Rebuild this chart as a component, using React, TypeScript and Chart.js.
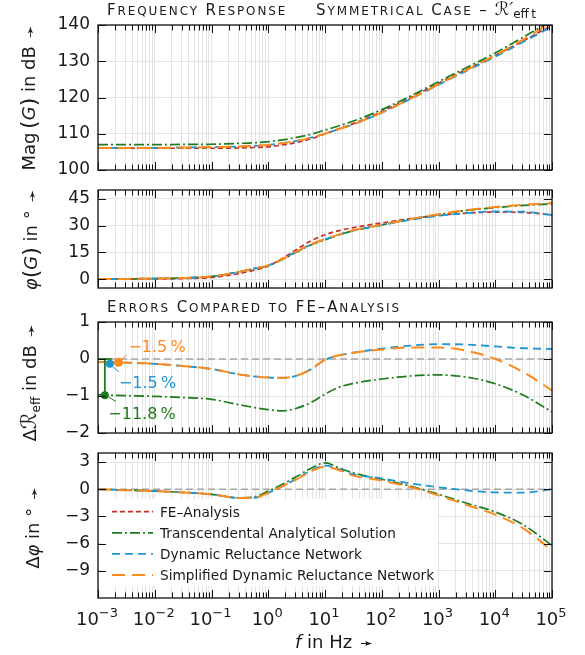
import React, { useEffect, useRef } from 'react';
import { Chart, registerables } from 'chart.js';

Chart.register(...registerables);

const FONT = '"DejaVu Sans", "Liberation Sans", sans-serif';
const INK = '#1a1a1a';

const C_FE = '#c2302b';
const C_TAS = '#1e7b1e';
const C_DRN = '#1f96cf';
const C_SDRN = '#ff8a1c';
const C_ZERO = '#a6a6a6';

// frequency samples (Hz)
const freqHz = [1e-3, 3.162e-3, 1e-2, 3.162e-2, 0.1, 0.3162, 0.5623, 1, 1.778, 3.162, 5.623, 10, 17.78, 31.62, 100, 316.2, 1000, 3162, 1e4, 3.162e4, 1e5];

// Panel 1: magnitude in dB
const magFE = [106.0, 106.0, 106.0, 106.0, 106.0, 106.1, 106.2, 106.4, 106.9, 107.6, 108.6, 110.0, 111.4, 112.8, 116.1, 119.9, 123.9, 127.8, 131.6, 135.7, 139.9];
const magTAS = [107.0, 107.0, 107.0, 107.05, 107.1, 107.35, 107.5, 107.8, 108.3, 109.0, 109.85, 111.0, 112.2, 113.5, 116.65, 120.35, 124.35, 128.3, 132.3, 136.7, 141.3];
const magDRN = [106.1, 106.1, 106.1, 106.2, 106.3, 106.5, 106.65, 106.9, 107.4, 108.05, 108.9, 110.0, 111.3, 112.6, 115.8, 119.55, 123.5, 127.4, 131.25, 135.4, 139.6];
const magSDRN = [106.1, 106.1, 106.1, 106.2, 106.3, 106.5, 106.65, 106.9, 107.4, 108.05, 108.9, 110.0, 111.3, 112.6, 115.85, 119.6, 123.6, 127.6, 131.6, 136.05, 140.75];

// Panel 2: phase in degrees
const phFE = [0, 0, 0.1, 0.3, 0.9, 3.2, 5.0, 7.3, 11.6, 16.6, 21.4, 24.9, 27.2, 28.9, 31.5, 33.9, 35.7, 37.0, 37.6, 37.4, 36.0];
const phTAS = [0, 0.1, 0.3, 0.65, 1.45, 4.15, 5.85, 7.5, 11.05, 15.2, 19.1, 22.0, 24.85, 27.1, 30.4, 33.55, 36.25, 38.55, 40.1, 41.35, 42.2];
const phDRN = [0, 0.1, 0.3, 0.65, 1.45, 4.15, 5.95, 7.7, 11.25, 15.45, 19.35, 22.3, 25.0, 27.25, 30.3, 33.25, 35.5, 37.1, 37.95, 37.8, 36.0];
const phSDRN = [0, 0.1, 0.3, 0.65, 1.45, 4.15, 5.95, 7.7, 11.25, 15.5, 19.45, 22.4, 25.1, 27.4, 30.55, 33.65, 36.4, 38.75, 40.4, 41.75, 42.7];

// Panel 3: reluctance error in dB
const dRTAS = [-0.97, -0.99, -1.01, -1.04, -1.09, -1.24, -1.31, -1.37, -1.40, -1.33, -1.18, -0.95, -0.76, -0.66, -0.54, -0.46, -0.43, -0.49, -0.67, -0.98, -1.43];
const dRDRN = [-0.08, -0.1, -0.13, -0.19, -0.27, -0.42, -0.47, -0.5, -0.51, -0.45, -0.28, -0.02, 0.1, 0.17, 0.28, 0.36, 0.4, 0.39, 0.34, 0.29, 0.27];
const dRSDRN = [-0.08, -0.1, -0.13, -0.19, -0.27, -0.42, -0.47, -0.5, -0.51, -0.45, -0.28, -0.02, 0.1, 0.17, 0.26, 0.31, 0.31, 0.22, 0.0, -0.36, -0.85];

// Panel 4: phase error in degrees
const dPhTAS = [0, -0.1, -0.2, -0.35, -0.56, -0.95, -0.85, -0.2, 0.55, 1.4, 2.3, 2.9, 2.35, 1.8, 1.1, 0.35, -0.55, -1.55, -2.5, -3.95, -6.2];
const dPhDRN = [0, -0.1, -0.2, -0.35, -0.56, -0.97, -0.95, -0.4, 0.35, 1.15, 2.05, 2.6, 2.2, 1.65, 1.2, 0.65, 0.22, -0.12, -0.35, -0.37, 0];
const dPhSDRN = [0, -0.1, -0.2, -0.35, -0.56, -0.97, -0.95, -0.4, 0.35, 1.1, 1.95, 2.5, 2.1, 1.5, 0.95, 0.25, -0.68, -1.75, -2.8, -4.35, -6.75];

// axis ticks
const xDecades = [-3, -2, -1, 0, 1, 2, 3, 4, 5];
const magTicks = [100, 110, 120, 130, 140];
const phTicks = [0, 15, 30, 45];
const dRTicks = [-2, -1, 0, 1];
const dPhTicks = [-9, -6, -3, 0, 3];

// legend
const legendNames = ['FE–Analysis', 'Transcendental Analytical Solution', 'Dynamic Reluctance Network', 'Simplified Dynamic Reluctance Network'];

// low-frequency error annotations (SDRN, DRN, TAS)
const markFreq = [2.29e-3, 1.62e-3, 1.32e-3];
const markErr = [-0.09, -0.13, -0.98];
const markText = ['−1.5\u2009%', '−1.5\u2009%', '−11.8\u2009%'];
const bracketFreq = [1e-3, 1.74e-3];

const STY: any = {
  fe: { color: C_FE, dash: [5, 3], width: 1.7 },
  tas: { color: C_TAS, dash: [10, 3, 2, 3], width: 1.7 },
  drn: { color: C_DRN, dash: [8, 5], width: 1.8 },
  sdrn: { color: C_SDRN, dash: [13, 7], width: 2 },
};

const xGrid: number[] = [];
for (let e = -3; e < 5; e++) for (let m = 1; m <= 9; m++) xGrid.push(+(m * Math.pow(10, e)).toPrecision(6));
xGrid.push(1e5);

const fmt = (v: number) => (v < 0 ? '−' + Math.abs(v) : String(v));

const line = (vals: number[], s: any, label: string) => ({
  label,
  data: freqHz.map((f, i) => ({ x: f, y: vals[i] })),
  borderColor: s.color,
  borderDash: s.dash,
  borderWidth: s.width,
  pointRadius: 0,
  cubicInterpolationMode: 'monotone',
  fill: false,
});

const zeroLine = () => ({
  label: 'zero',
  data: [{ x: 1e-3, y: 0 }, { x: 1e5, y: 0 }],
  borderColor: C_ZERO,
  borderDash: [7, 4],
  borderWidth: 1.3,
  pointRadius: 0,
  fill: false,
});

const framePlugin = {
  id: 'frame',
  afterDraw(chart: any) {
    const { ctx, chartArea: ca, scales } = chart;
    ctx.save();
    ctx.setLineDash([]);
    ctx.strokeStyle = '#111';
    ctx.lineWidth = 1;
    ctx.beginPath();
    const xs = scales.x;
    for (const t of xs.ticks) {
      const px = Math.round(xs.getPixelForValue(t.value)) + 0.5;
      const e = Math.log10(t.value);
      const major = Math.abs(e - Math.round(e)) < 1e-6;
      const len = major ? 8 : 5.5;
      ctx.moveTo(px, ca.top);
      ctx.lineTo(px, ca.top + len);
      ctx.moveTo(px, ca.bottom);
      ctx.lineTo(px, ca.bottom - len);
    }
    const ys = scales.y;
    for (const t of ys.ticks) {
      const py = Math.round(ys.getPixelForValue(t.value)) + 0.5;
      ctx.moveTo(ca.left, py);
      ctx.lineTo(ca.left + 8, py);
      ctx.moveTo(ca.right, py);
      ctx.lineTo(ca.right - 8, py);
    }
    ctx.stroke();
    ctx.lineWidth = 1.3;
    ctx.strokeRect(ca.left, ca.top, ca.right - ca.left, ca.bottom - ca.top);
    ctx.restore();
  },
};

const annotPlugin = {
  id: 'annot',
  afterDatasetsDraw(chart: any) {
    const { ctx, scales } = chart;
    const cols = [C_SDRN, C_DRN, C_TAS];
    const offs = [
      { tx: 10, ty: -10, l: [3, -3, 8, -7] },
      { tx: 9, ty: 24, l: [3, 3, 9, 8] },
      { tx: 3.5, ty: 23.5, l: [4, 2, 11, 6] },
    ];
    ctx.save();
    ctx.font = `16px ${FONT}`;
    ctx.textBaseline = 'alphabetic';
    ctx.textAlign = 'left';
    for (let i = 0; i < markFreq.length; i++) {
      const px = scales.x.getPixelForValue(markFreq[i]);
      const py = scales.y.getPixelForValue(markErr[i]);
      const o = offs[i];
      ctx.strokeStyle = cols[i];
      ctx.lineWidth = 1;
      ctx.setLineDash([]);
      ctx.beginPath();
      ctx.moveTo(px + o.l[0], py + o.l[1]);
      ctx.lineTo(px + o.l[2], py + o.l[3]);
      ctx.stroke();
      ctx.fillStyle = cols[i];
      ctx.fillText(markText[i], px + o.tx, py + o.ty);
    }
    ctx.restore();
  },
};

const legendPlugin = {
  id: 'legendBox',
  beforeDatasetsDraw(chart: any) {
    const { ctx, chartArea: ca } = chart;
    const sty = [STY.fe, STY.tas, STY.drn, STY.sdrn];
    ctx.save();
    ctx.fillStyle = '#fff';
    ctx.fillRect(ca.left + 4, ca.top + 46, 335, 87);
    ctx.font = `13.7px ${FONT}`;
    ctx.textBaseline = 'alphabetic';
    for (let i = 0; i < legendNames.length; i++) {
      const y = ca.top + 58.7 + i * 21.1;
      ctx.strokeStyle = sty[i].color;
      ctx.lineWidth = sty[i].width;
      ctx.setLineDash(sty[i].dash);
      ctx.beginPath();
      ctx.moveTo(ca.left + 14, y);
      ctx.lineTo(ca.left + 55, y);
      ctx.stroke();
      ctx.fillStyle = INK;
      ctx.fillText(legendNames[i], ca.left + 62, y + 4.8);
    }
    ctx.restore();
  },
};

const xLabelPlugin = {
  id: 'xlabels',
  afterDraw(chart: any) {
    const { ctx, chartArea: ca, scales } = chart;
    ctx.save();
    ctx.fillStyle = INK;
    ctx.textBaseline = 'alphabetic';
    ctx.textAlign = 'left';
    for (const e of xDecades) {
      const px = scales.x.getPixelForValue(Math.pow(10, e));
      const base = '10';
      const ex = e < 0 ? '−' + -e : String(e);
      ctx.font = `18px ${FONT}`;
      const wb = ctx.measureText(base).width;
      ctx.font = `13px ${FONT}`;
      const we = ctx.measureText(ex).width;
      const left = px - (wb + we) / 2 - 1;
      ctx.font = `18px ${FONT}`;
      ctx.fillText(base, left, ca.bottom + 27);
      ctx.font = `13px ${FONT}`;
      ctx.fillText(ex, left + wb, ca.bottom + 19);
    }
    ctx.restore();
  },
};

function makeConfig(datasets: any[], yMin: number, yMax: number, yTicks: number[], padBottom: number, extra: any[]) {
  return {
    type: 'line',
    data: { datasets },
    options: {
      animation: false,
      responsive: false,
      devicePixelRatio: 1,
      events: [],
      layout: { padding: { left: 0, right: 33, top: 12, bottom: padBottom } },
      plugins: { legend: { display: false }, tooltip: { enabled: false }, title: { display: false } },
      scales: {
        x: {
          type: 'logarithmic',
          min: 1e-3,
          max: 1e5,
          afterBuildTicks: (s: any) => {
            s.ticks = xGrid.map((v) => ({ value: v }));
          },
          ticks: { display: false },
          grid: { color: '#e4e4e4', lineWidth: 1, drawTicks: false },
          border: { display: false },
          afterFit: (s: any) => {
            s.height = 0;
            s.paddingLeft = 0;
            s.paddingRight = 0;
          },
        },
        y: {
          type: 'linear',
          min: yMin,
          max: yMax,
          afterBuildTicks: (s: any) => {
            s.ticks = yTicks.map((v) => ({ value: v }));
          },
          ticks: {
            font: { family: FONT, size: 17 },
            color: INK,
            padding: 8,
            callback: (v: any) => fmt(Number(v)),
          },
          grid: { color: '#e4e4e4', lineWidth: 1, drawTicks: false },
          border: { display: false },
          afterFit: (s: any) => {
            s.width = 98;
            s.paddingTop = 0;
            s.paddingBottom = 0;
          },
        },
      },
    },
    plugins: [framePlugin, ...extra],
  } as any;
}

const T = ({ x, y, size, children, style }: any) => (
  <div
    style={{
      position: 'absolute',
      left: x,
      top: y - size * 0.846,
      fontSize: size,
      lineHeight: size + 'px',
      fontFamily: FONT,
      whiteSpace: 'nowrap',
      color: INK,
      ...style,
    }}
  >
    {children}
  </div>
);

// manual small caps: capitals at full size, lowercase as smaller capitals
const SC = ({ text, size, ls }: any) => {
  const runs: { low: boolean; s: string }[] = [];
  for (const ch of text) {
    const low = ch.toLowerCase() === ch && ch.toUpperCase() !== ch;
    const last = runs[runs.length - 1];
    if (last && last.low === low) last.s += ch;
    else runs.push({ low, s: ch });
  }
  return (
    <span style={{ letterSpacing: ls }}>
      {runs.map((r, i) => (
        <span key={i} style={{ fontSize: r.low ? size * 0.8 : size }}>
          {r.low ? r.s.toUpperCase() : r.s}
        </span>
      ))}
    </span>
  );
};

const R = ({ cx, cy, children }: any) => (
  <div
    style={{
      position: 'absolute',
      left: cx,
      top: cy,
      fontSize: 18,
      lineHeight: '18px',
      fontFamily: FONT,
      whiteSpace: 'nowrap',
      color: INK,
      transform: 'translate(-50%, -50%) rotate(-90deg)',
    }}
  >
    {children}
  </div>
);

const Arrow = () => <span style={{ fontSize: 15, lineHeight: 0, marginLeft: 8 }}>➛</span>;
const BigP = ({ c }: any) => <span style={{ fontSize: 22, lineHeight: 0, position: 'relative', top: 1 }}>{c}</span>;
const ScriptR = () => <span style={{ fontSize: 21, lineHeight: 0, fontStyle: 'italic' }}>ℛ</span>;

export default function App() {
  const r1 = useRef<HTMLCanvasElement>(null);
  const r2 = useRef<HTMLCanvasElement>(null);
  const r3 = useRef<HTMLCanvasElement>(null);
  const r4 = useRef<HTMLCanvasElement>(null);

  useEffect(() => {
    const charts: Chart[] = [];
    charts.push(
      new Chart(
        r1.current as any,
        makeConfig(
          [line(magSDRN, STY.sdrn, 'SDRN'), line(magDRN, STY.drn, 'DRN'), line(magTAS, STY.tas, 'TAS'), line(magFE, STY.fe, 'FE')],
          100, 140, magTicks, 12, []
        )
      )
    );
    charts.push(
      new Chart(
        r2.current as any,
        makeConfig(
          [line(phSDRN, STY.sdrn, 'SDRN'), line(phDRN, STY.drn, 'DRN'), line(phTAS, STY.tas, 'TAS'), line(phFE, STY.fe, 'FE')],
          -5, 50, phTicks, 12, []
        )
      )
    );
    const markerSets = markFreq.map((f, i) => ({
      label: 'mark' + i,
      data: [{ x: f, y: markErr[i] }],
      showLine: false,
      pointRadius: i === 0 ? 4.5 : 4,
      pointBackgroundColor: [C_SDRN, C_DRN, C_TAS][i],
      pointBorderColor: [C_SDRN, C_DRN, C_TAS][i],
      pointBorderWidth: 0,
    }));
    const bracketH = {
      label: 'bracketH',
      data: bracketFreq.map((f) => ({ x: f, y: 0 })),
      borderColor: C_TAS,
      borderWidth: 1.8,
      pointRadius: 0,
    };
    const bracketV = {
      label: 'bracketV',
      data: [{ x: markFreq[2], y: 0 }, { x: markFreq[2], y: markErr[2] }],
      borderColor: C_TAS,
      borderWidth: 1.8,
      pointRadius: 0,
    };
    charts.push(
      new Chart(
        r3.current as any,
        makeConfig(
          [...markerSets, bracketV, bracketH, line(dRSDRN, STY.sdrn, 'SDRN'), line(dRDRN, STY.drn, 'DRN'), line(dRTAS, STY.tas, 'TAS'), zeroLine()],
          -2, 1, dRTicks, 12, [annotPlugin]
        )
      )
    );
    charts.push(
      new Chart(
        r4.current as any,
        makeConfig(
          [line(dPhSDRN, STY.sdrn, 'SDRN'), line(dPhDRN, STY.drn, 'DRN'), line(dPhTAS, STY.tas, 'TAS'), zeroLine()],
          -12, 4, dPhTicks, 57, [legendPlugin, xLabelPlugin]
        )
      )
    );
    return () => charts.forEach((c) => c.destroy());
  }, []);

  const cv = (top: number): any => ({ position: 'absolute', left: 0, top });

  return (
    <div style={{ position: 'absolute', left: 0, top: 0, width: 585, height: 655, background: '#fff', overflow: 'hidden' }}>
      <canvas ref={r1} width={585} height={169} style={cv(13)} />
      <canvas ref={r2} width={585} height={122} style={cv(178)} />
      <canvas ref={r3} width={585} height={135} style={cv(310)} />
      <canvas ref={r4} width={585} height={214} style={cv(441)} />

      <T x={107} y={16} size={15}>
        <SC text="Frequency Response" size={15} ls={1.9} />
      </T>
      <T x={316} y={16} size={15}>
        <SC text="Symmetrical Case –" size={15} ls={1.9} />
        <span style={{ marginLeft: 6, fontSize: 18, lineHeight: 0, fontStyle: 'italic' }}>ℛ′</span>
        <span style={{ fontSize: 12, position: 'relative', top: 3 }}>eff&thinsp;t</span>
      </T>
      <T x={107} y={313} size={15}>
        <SC text="Errors Compared to FE–Analysis" size={15} ls={1.9} />
      </T>

      <R cx={28.8} cy={98}>
        Mag&thinsp;<BigP c="(" /><i>G</i><BigP c=")" /> in dB<Arrow />
      </R>
      <R cx={30.8} cy={240}>
        <i>φ</i><BigP c="(" /><i>G</i><BigP c=")" /> in °<Arrow />
      </R>
      <R cx={30.8} cy={383}>
        Δ<ScriptR /><span style={{ fontSize: 12, position: 'relative', top: 4 }}>eff</span> in dB<Arrow />
      </R>
      <R cx={33.3} cy={528}>
        Δ<i>φ</i> in °<Arrow />
      </R>

      <T x={295} y={648} size={18}>
        <i>f</i> in Hz<Arrow />
      </T>
    </div>
  );
}
